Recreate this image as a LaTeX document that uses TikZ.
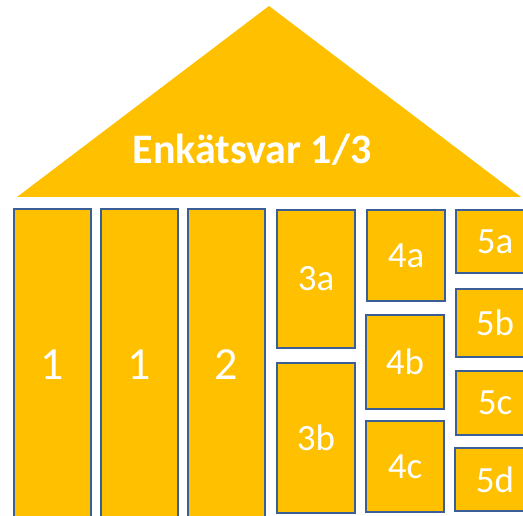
\documentclass[tikz,border=0pt]{standalone}
\usepackage{fontspec}
\setmainfont{Carlito}
\definecolor{gold}{HTML}{FFC000}
\definecolor{edge}{HTML}{3A5F96}
\begin{document}
\begin{tikzpicture}[x=1pt,y=-1pt,
  box/.style={draw=edge,line width=2.6pt,fill=gold},
  lbl/.style={text=white,font=\fontsize{37}{37}\selectfont,inner sep=0pt},
  biglbl/.style={text=white,font=\fontsize{46}{46}\selectfont,inner sep=0pt}]
\useasboundingbox (0,0) rectangle (523,516);
\clip (0,0) rectangle (523,516);
\fill[gold] (17,197) -- (269,6) -- (521,197) -- cycle;
\node[text=white,font=\fontsize{42}{42}\bfseries\selectfont,inner sep=0pt] (title) at (252,150) {Enkätsvar 1/3};
% columns
\draw[box] (14,209) rectangle (91,530);
\draw[box] (101,209) rectangle (178,530);
\draw[box] (188,209) rectangle (265,530);
\node[biglbl] (c1) at (52.5,365) {1};
\node[biglbl] (c2) at (139.5,365) {1};
\node[biglbl] (c3) at (226.5,365) {2};
% 3
\draw[box] (277,210) rectangle (355,348);
\draw[box] (277,363) rectangle (355,513);
\node[lbl] (l3a) at (316,279) {3a};
\node[lbl] (l3b) at (316,438) {3b};
% 4
\draw[box] (367,210) rectangle (445,301);
\draw[box] (366,315) rectangle (444,409);
\draw[box] (366,421) rectangle (444,512);
\node[lbl] (l4a) at (406,256) {4a};
\node[lbl] (l4b) at (405,362) {4b};
\node[lbl] (l4c) at (405,467) {4c};
% 5
\draw[box] (456,210) rectangle (536,273);
\draw[box] (456,289) rectangle (536,357);
\draw[box] (456,371) rectangle (536,435);
\draw[box] (455,448) rectangle (536,511);
\node[lbl] (l5a) at (495,242) {5a};
\node[lbl] (l5b) at (495,323) {5b};
\node[lbl] (l5c) at (495,403) {5c};
\node[lbl] (l5d) at (495,480) {5d};
\end{tikzpicture}
\end{document}
